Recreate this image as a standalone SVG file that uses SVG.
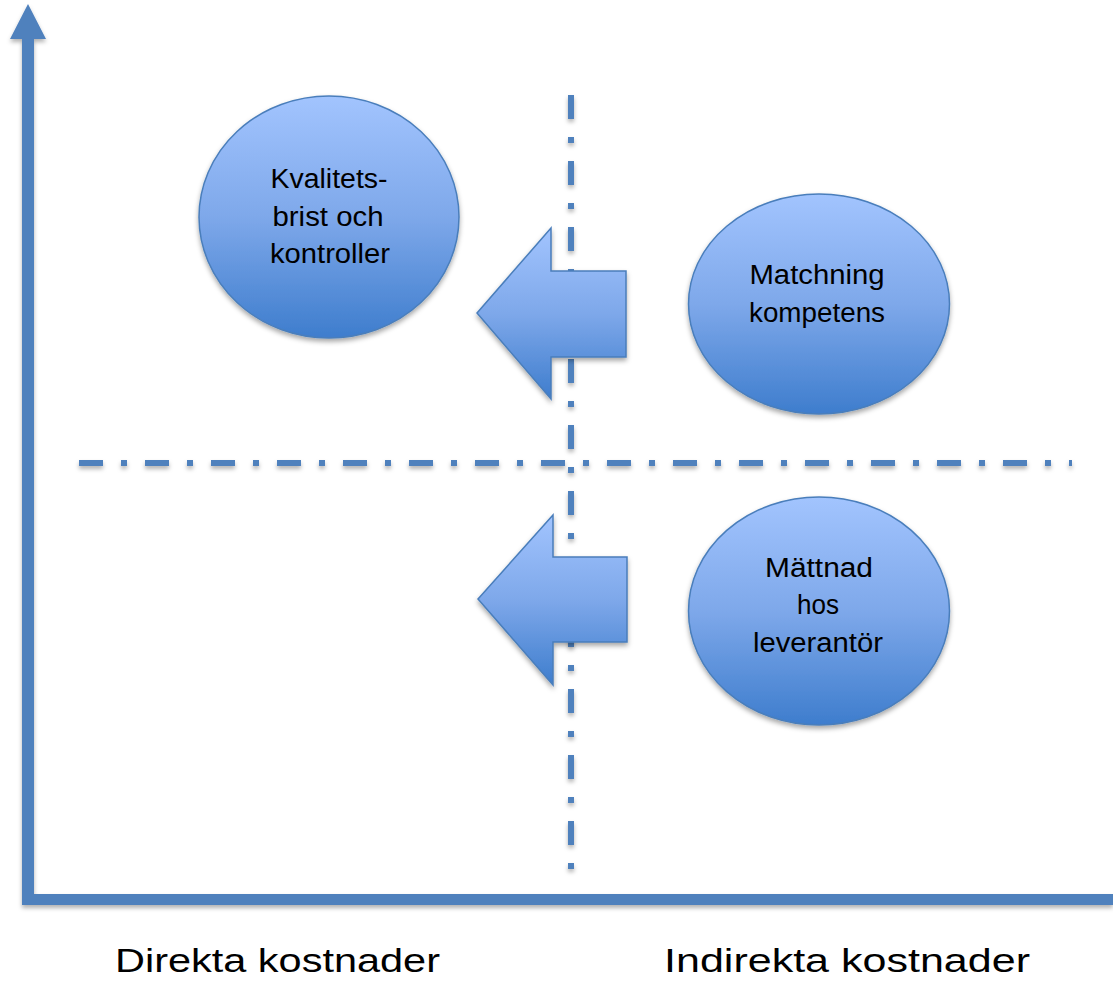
<svg xmlns="http://www.w3.org/2000/svg" width="1113" height="987" viewBox="0 0 1113 987">
<defs>
<linearGradient id="g" x1="0" y1="0" x2="0" y2="1">
<stop offset="0" stop-color="#A2C4FE"/>
<stop offset="0.5" stop-color="#7EA8EA"/>
<stop offset="1" stop-color="#3E7DCD"/>
</linearGradient>
<filter id="sh" x="-20%" y="-20%" width="140%" height="140%">
<feDropShadow dx="0" dy="3" stdDeviation="2.5" flood-color="#000" flood-opacity="0.35"/>
</filter>
<filter id="shl" filterUnits="userSpaceOnUse" x="0" y="0" width="1113" height="987">
<feDropShadow dx="0" dy="3" stdDeviation="2" flood-color="#000" flood-opacity="0.3"/>
</filter>
</defs>
<style>
.shape{fill:url(#g);stroke:#4A7EBB;stroke-width:1.5;filter:url(#sh)}
.axis{fill:#4F81BD;filter:url(#shl)}
.dash{stroke:#4F81BD;stroke-width:6;fill:none;stroke-dasharray:24 18 6 18;filter:url(#shl)}
.lbl{font-family:"Liberation Sans",Arial,sans-serif;font-size:27px;fill:#000;text-anchor:middle}
.ax{font-family:"Liberation Sans",Arial,sans-serif;font-size:34px;fill:#000}
</style>
<rect width="1113" height="987" fill="#fff"/>
<g id="connectors">
<path class="axis" d="M22,39 H10 L28,4 L46,39 H34 V894 H1113 V905 H22 Z"/>
<line class="dash" x1="79" y1="463" x2="1072" y2="463"/>
<line class="dash" x1="571" y1="95" x2="571" y2="872"/>
<polygon class="shape" points="626,271 551,271 551,228 477,313 551,399 551,357 626,357"/>
<polygon class="shape" points="627,557 553,557 553,515 478,599 553,685 553,642 627,642"/>
</g>
<g id="kvalitet">
<ellipse class="shape" cx="329" cy="217" rx="130" ry="121"/>
<text class="lbl" x="329" y="188" textLength="117" lengthAdjust="spacingAndGlyphs">Kvalitets-</text>
<text class="lbl" x="328" y="226" textLength="111" lengthAdjust="spacingAndGlyphs">brist och</text>
<text class="lbl" x="330" y="263" textLength="120" lengthAdjust="spacingAndGlyphs">kontroller</text>
</g>
<g id="matchning">
<ellipse class="shape" cx="819" cy="304" rx="130.5" ry="110"/>
<text class="lbl" x="817" y="284" textLength="135" lengthAdjust="spacingAndGlyphs">Matchning</text>
<text class="lbl" x="817" y="322" textLength="136" lengthAdjust="spacingAndGlyphs">kompetens</text>
</g>
<g id="mattnad">
<ellipse class="shape" cx="819" cy="611" rx="130.5" ry="114"/>
<text class="lbl" x="819" y="577" textLength="108" lengthAdjust="spacingAndGlyphs">Mättnad</text>
<text class="lbl" x="818" y="614" textLength="42" lengthAdjust="spacingAndGlyphs">hos</text>
<text class="lbl" x="818" y="652" textLength="130" lengthAdjust="spacingAndGlyphs">leverantör</text>
</g>
<g id="axis-labels">
<text class="ax" x="115" y="972" textLength="325" lengthAdjust="spacingAndGlyphs">Direkta kostnader</text>
<text class="ax" x="664" y="972" textLength="366" lengthAdjust="spacingAndGlyphs">Indirekta kostnader</text>
</g>
</svg>
